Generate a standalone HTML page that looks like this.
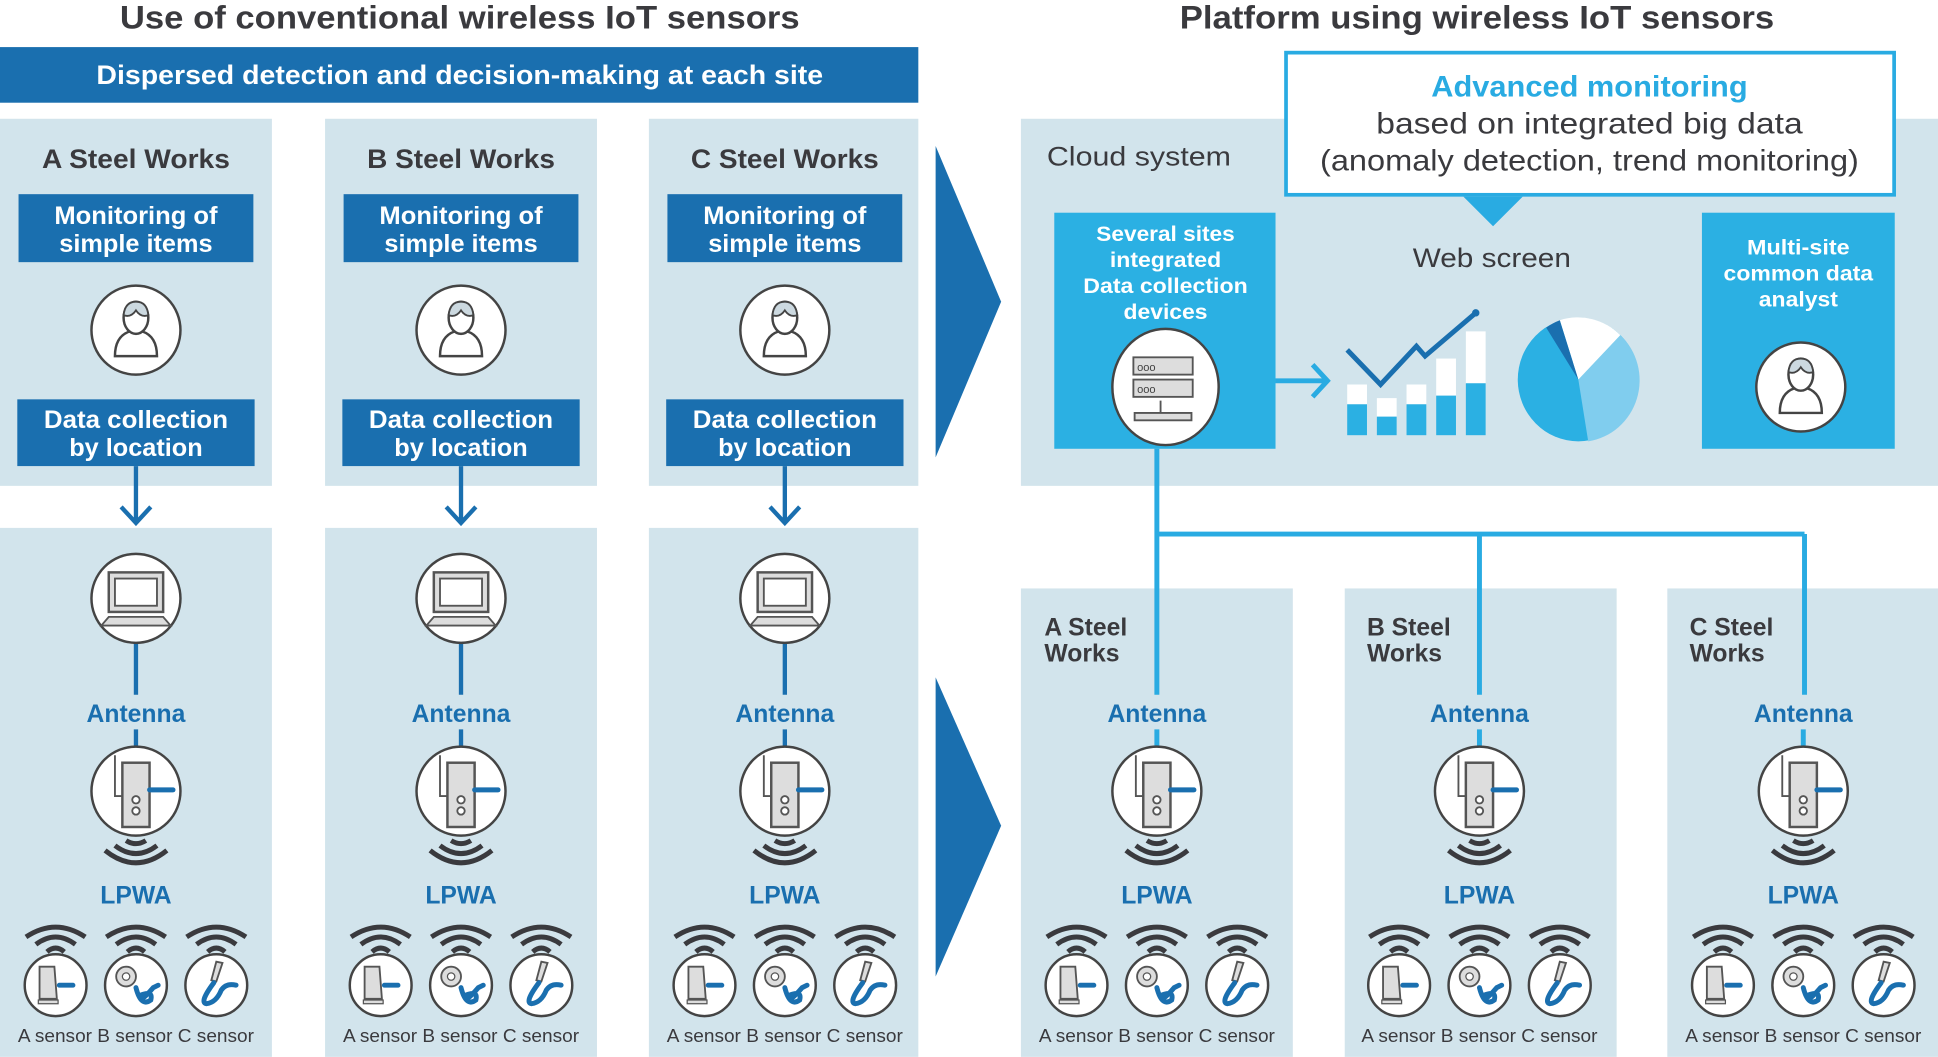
<!DOCTYPE html>
<html><head><meta charset="utf-8"><style>
html,body{margin:0;padding:0;background:#fff;}
svg{display:block;}
text{font-family:"Liberation Sans",sans-serif;font-weight:bold;}
</style></head><body>
<svg width="1938" height="1057" viewBox="0 0 1568 855" xmlns="http://www.w3.org/2000/svg">
<defs>
<g id="person">
<circle r="36" fill="#fff" stroke="#444" stroke-width="2"/>
<path d="M-17 21 Q-17 5 -5 1 L5 1 Q17 5 17 21 Z" fill="#fff" stroke="#444" stroke-width="2"/>
<ellipse cx="0" cy="-10" rx="10" ry="13" fill="#fff" stroke="#444" stroke-width="2"/>
<path d="M-10 -12 Q-4 -10 0 -16 Q4 -10 10 -12 Q9 -23 0 -23 Q-9 -23 -10 -12Z" fill="#ccd9e0" stroke="#444" stroke-width="1.5"/>
</g>
<g id="laptop">
<circle r="36" fill="#fff" stroke="#444" stroke-width="2"/>
<rect x="-22" y="-21" width="44" height="32" fill="#ddd" stroke="#555" stroke-width="2"/>
<rect x="-17" y="-16" width="34" height="22" fill="#fff" stroke="#555" stroke-width="1.5"/>
<polygon points="-28,22 28,22 22,15 -22,15" fill="#ddd" stroke="#555" stroke-width="1.5"/>
</g>
<g id="ant">
<circle r="36" fill="#fff" stroke="#444" stroke-width="2"/>
<path d="M-17 -29 V4 H-11" fill="none" stroke="#555" stroke-width="1.5"/>
<rect x="-11" y="-23" width="22" height="52" fill="#ddd" stroke="#555" stroke-width="2"/>
<line x1="11" y1="-1" x2="30" y2="-1" stroke="#1a6faf" stroke-width="4" stroke-linecap="round"/>
<circle cx="0" cy="7" r="3" fill="#fff" stroke="#555" stroke-width="1.5"/>
<circle cx="0" cy="16" r="3" fill="#fff" stroke="#555" stroke-width="1.5"/>
</g>
<g id="wavesDown" fill="none" stroke="#3a3a3e" stroke-width="4">
<path d="M-8 6 Q0 11 8 6"/>
<path d="M-17 10 Q0 23 17 10"/>
<path d="M-25 14 Q0 34 25 14"/>
</g>
<g id="wavesUp" fill="none" stroke="#3a3a3e" stroke-width="4">
<path d="M-7 10 Q0 4 7 10"/>
<path d="M-16 4 Q0 -8 16 4"/>
<path d="M-24 -2 Q0 -18 24 -2"/>
</g>
<g id="sA">
<circle r="25" fill="#fff" stroke="#444" stroke-width="2"/>
<polygon points="-13,-15 -1,-15 1,11 -13,11" fill="#ddd" stroke="#555" stroke-width="1.5"/>
<rect x="-14" y="12" width="16" height="3" fill="#ddd" stroke="#555"/>
<line x1="3" y1="0" x2="14" y2="0" stroke="#1a6faf" stroke-width="4" stroke-linecap="round"/>
</g>
<g id="sB">
<circle r="25" fill="#fff" stroke="#444" stroke-width="2"/>
<circle cx="-8" cy="-7" r="8" fill="#ddd" stroke="#555" stroke-width="1.5"/>
<circle cx="-8" cy="-7" r="3" fill="#fff" stroke="#555"/>
<path d="M0 2 Q4 18 12 12 Q14 4 4 8 Q2 16 14 2 L18 0" fill="none" stroke="#1a6faf" stroke-width="4" stroke-linecap="round"/>
</g>
<g id="sC">
<circle r="25" fill="#fff" stroke="#444" stroke-width="2"/>
<polygon points="0,-19 5,-18 0,-3 -4,-4" fill="#ddd" stroke="#555" stroke-width="1.5"/>
<path d="M-2 -2 Q-14 14 -8 15 Q0 14 4 4 Q8 -2 16 0" fill="none" stroke="#1a6faf" stroke-width="4" stroke-linecap="round"/>
</g>
</defs>

<text x="372" y="23" font-size="26" fill="#3a3a3e" text-anchor="middle" textLength="550" lengthAdjust="spacingAndGlyphs">Use of conventional wireless IoT sensors</text>
<text x="1195" y="23" font-size="26" fill="#3a3a3e" text-anchor="middle" textLength="481" lengthAdjust="spacingAndGlyphs">Platform using wireless IoT sensors</text>
<rect x="0" y="38" width="743" height="45" fill="#1a6faf"/>
<text x="372" y="68" font-size="22" fill="#fff" text-anchor="middle" textLength="588" lengthAdjust="spacingAndGlyphs">Dispersed detection and decision-making at each site</text>

<g fill="#d2e4ec">
<rect x="0" y="96" width="220" height="297"/><rect x="263" y="96" width="220" height="297"/><rect x="525" y="96" width="218" height="297"/>
<rect x="0" y="427" width="220" height="428"/><rect x="263" y="427" width="220" height="428"/><rect x="525" y="427" width="218" height="428"/>
</g>
<g fill="#1a6faf">
<rect x="15" y="157" width="190" height="55"/><rect x="278" y="157" width="190" height="55"/><rect x="540" y="157" width="190" height="55"/>
<rect x="14" y="323" width="192" height="54"/><rect x="277" y="323" width="192" height="54"/><rect x="539" y="323" width="192" height="54"/>
</g>
<g font-size="22" fill="#3a3a3e" text-anchor="middle">
<text x="110" y="136" textLength="152" lengthAdjust="spacingAndGlyphs">A Steel Works</text>
<text x="373" y="136" textLength="152" lengthAdjust="spacingAndGlyphs">B Steel Works</text>
<text x="635" y="136" textLength="152" lengthAdjust="spacingAndGlyphs">C Steel Works</text>
</g>
<g font-size="20" fill="#fff" text-anchor="middle">
<text x="110" y="181" textLength="132" lengthAdjust="spacingAndGlyphs">Monitoring of</text>
<text x="110" y="204" textLength="124" lengthAdjust="spacingAndGlyphs">simple items</text>
<text x="373" y="181" textLength="132" lengthAdjust="spacingAndGlyphs">Monitoring of</text>
<text x="373" y="204" textLength="124" lengthAdjust="spacingAndGlyphs">simple items</text>
<text x="635" y="181" textLength="132" lengthAdjust="spacingAndGlyphs">Monitoring of</text>
<text x="635" y="204" textLength="124" lengthAdjust="spacingAndGlyphs">simple items</text>
<text x="110" y="346" textLength="149" lengthAdjust="spacingAndGlyphs">Data collection</text>
<text x="110" y="369" textLength="108" lengthAdjust="spacingAndGlyphs">by location</text>
<text x="373" y="346" textLength="149" lengthAdjust="spacingAndGlyphs">Data collection</text>
<text x="373" y="369" textLength="108" lengthAdjust="spacingAndGlyphs">by location</text>
<text x="635" y="346" textLength="149" lengthAdjust="spacingAndGlyphs">Data collection</text>
<text x="635" y="369" textLength="108" lengthAdjust="spacingAndGlyphs">by location</text>
</g>
<use href="#person" x="110" y="267"/><use href="#person" x="373" y="267"/><use href="#person" x="635" y="267"/>
<g stroke="#1a6faf" stroke-width="3.5" fill="none">
<path d="M110 377 V423 M98 410 L110 423 L122 410"/>
<path d="M373 377 V423 M361 410 L373 423 L385 410"/>
<path d="M635 377 V423 M623 410 L635 423 L647 410"/>
<path d="M110 520 V562 M110 590 V604"/>
<path d="M373 520 V562 M373 590 V604"/>
<path d="M635 520 V562 M635 590 V604"/>
</g>
<use href="#laptop" x="110" y="484"/><use href="#laptop" x="373" y="484"/><use href="#laptop" x="635" y="484"/>

<polygon points="757,118 810,244 757,370" fill="#1a6faf"/>
<polygon points="757,548 810,668 757,790" fill="#1a6faf"/>

<rect x="826" y="96" width="742" height="297" fill="#d2e4ec"/>
<g fill="#d2e4ec">
<rect x="826" y="476" width="220" height="379"/><rect x="1088" y="476" width="220" height="379"/><rect x="1349" y="476" width="219" height="379"/>
</g>
<rect x="1040.5" y="42.5" width="492" height="115" fill="#fff" stroke="#29abe2" stroke-width="3"/>
<polygon points="1184,159 1232,159 1208,183" fill="#29abe2"/>
<text x="1286" y="78" font-size="24" fill="#29abe2" text-anchor="middle" textLength="256" lengthAdjust="spacingAndGlyphs">Advanced monitoring</text>
<text x="1286" y="108" font-size="24" fill="#3a3a3e" text-anchor="middle" textLength="345" lengthAdjust="spacingAndGlyphs" style="font-weight:normal">based on integrated big data</text>
<text x="1286" y="138" font-size="24" fill="#3a3a3e" text-anchor="middle" textLength="436" lengthAdjust="spacingAndGlyphs" style="font-weight:normal">(anomaly detection, trend monitoring)</text>
<text x="847" y="134" font-size="22" fill="#3a3a3e" textLength="149" lengthAdjust="spacingAndGlyphs" style="font-weight:normal">Cloud system</text>
<rect x="853" y="172" width="179" height="191" fill="#2bb0e3"/>
<rect x="1377" y="172" width="156" height="191" fill="#2bb0e3"/>
<g font-size="17" fill="#fff" text-anchor="middle">
<text x="943" y="195" textLength="112" lengthAdjust="spacingAndGlyphs">Several sites</text>
<text x="943" y="216" textLength="90" lengthAdjust="spacingAndGlyphs">integrated</text>
<text x="943" y="237" textLength="133" lengthAdjust="spacingAndGlyphs">Data collection</text>
<text x="943" y="258" textLength="68" lengthAdjust="spacingAndGlyphs">devices</text>
<text x="1455" y="206" textLength="83" lengthAdjust="spacingAndGlyphs">Multi-site</text>
<text x="1455" y="227" textLength="121" lengthAdjust="spacingAndGlyphs">common data</text>
<text x="1455" y="248" textLength="64" lengthAdjust="spacingAndGlyphs">analyst</text>
</g>
<text x="1207" y="216" font-size="22" fill="#3a3a3e" text-anchor="middle" textLength="128" lengthAdjust="spacingAndGlyphs" style="font-weight:normal">Web screen</text>
<ellipse cx="943" cy="313" rx="43" ry="47" fill="#fff" stroke="#444" stroke-width="2"/>
<rect x="917" y="289" width="48" height="14" fill="#ddd" stroke="#555" stroke-width="1.5"/>
<rect x="917" y="307" width="48" height="14" fill="#ddd" stroke="#555" stroke-width="1.5"/>
<text x="920" y="300" font-size="9" fill="#444" style="font-weight:normal">ooo</text>
<text x="920" y="318" font-size="9" fill="#444" style="font-weight:normal">ooo</text>
<path d="M939 324 V334 M918 334 H964 V340 H918 Z" fill="#ddd" stroke="#555" stroke-width="1.5"/>
<path d="M1032 308 H1072 M1062 295 L1074 308 L1062 321" stroke="#29abe2" stroke-width="4" fill="none"/>
<g fill="#fff">
<rect x="1090" y="311" width="16" height="16"/><rect x="1114" y="322" width="16" height="15"/><rect x="1138" y="311" width="16" height="16"/><rect x="1162" y="290" width="16" height="30"/><rect x="1186" y="268" width="16" height="42"/>
</g>
<g fill="#2bb0e3">
<rect x="1090" y="327" width="16" height="25"/><rect x="1114" y="337" width="16" height="15"/><rect x="1138" y="327" width="16" height="25"/><rect x="1162" y="320" width="16" height="32"/><rect x="1186" y="310" width="16" height="42"/>
</g>
<polyline points="1090,283 1117,311 1146,280 1153,288 1194,253" fill="none" stroke="#1a6faf" stroke-width="4"/>
<circle cx="1194" cy="253" r="3" fill="#1a6faf"/>
<g transform="translate(1277,307)">
<ellipse rx="49" ry="50" fill="#2bb0e3"/>
<path d="M0 0 L8 50 A49 50 0 0 0 34 -36 Z" fill="#80cdee"/>
<path d="M0 0 L34 -36 A49 50 0 0 0 -15 -48 Z" fill="#fff"/>
<path d="M0 0 L-15 -48 A49 50 0 0 0 -26 -42 Z" fill="#1a6faf"/>
</g>
<use href="#person" x="1457" y="313"/>
<g stroke="#29abe2" stroke-width="4" fill="none">
<path d="M936 363 V562 M936 590 V604"/>
<path d="M936 432 H1460"/>
<path d="M1197 432 V562 M1197 590 V604"/>
<path d="M1460 432 V562 M1459 590 V604"/>
</g>
<g font-size="20" fill="#3a3a3e">
<text x="845" y="514">A Steel</text><text x="845" y="535">Works</text>
<text x="1106" y="514">B Steel</text><text x="1106" y="535">Works</text>
<text x="1367" y="514">C Steel</text><text x="1367" y="535">Works</text>
</g>

<g font-size="20" fill="#1a6faf" text-anchor="middle">
<text x="110" y="584">Antenna</text><text x="373" y="584">Antenna</text><text x="635" y="584">Antenna</text>
<text x="936" y="584">Antenna</text><text x="1197" y="584">Antenna</text><text x="1459" y="584">Antenna</text>
<text x="110" y="731">LPWA</text><text x="373" y="731">LPWA</text><text x="635" y="731">LPWA</text>
<text x="936" y="731">LPWA</text><text x="1197" y="731">LPWA</text><text x="1459" y="731">LPWA</text>
</g>

<g transform="translate(110,0)"><use href="#ant" y="640"/><use href="#wavesDown" y="674"/><use href="#wavesUp" x="-65" y="760"/><use href="#wavesUp" y="760"/><use href="#wavesUp" x="65" y="760"/><use href="#sA" x="-65" y="797"/><use href="#sB" y="797"/><use href="#sC" x="65" y="797"/></g>
<g transform="translate(373,0)"><use href="#ant" y="640"/><use href="#wavesDown" y="674"/><use href="#wavesUp" x="-65" y="760"/><use href="#wavesUp" y="760"/><use href="#wavesUp" x="65" y="760"/><use href="#sA" x="-65" y="797"/><use href="#sB" y="797"/><use href="#sC" x="65" y="797"/></g>
<g transform="translate(635,0)"><use href="#ant" y="640"/><use href="#wavesDown" y="674"/><use href="#wavesUp" x="-65" y="760"/><use href="#wavesUp" y="760"/><use href="#wavesUp" x="65" y="760"/><use href="#sA" x="-65" y="797"/><use href="#sB" y="797"/><use href="#sC" x="65" y="797"/></g>
<g transform="translate(936,0)"><use href="#ant" y="640"/><use href="#wavesDown" y="674"/><use href="#wavesUp" x="-65" y="760"/><use href="#wavesUp" y="760"/><use href="#wavesUp" x="65" y="760"/><use href="#sA" x="-65" y="797"/><use href="#sB" y="797"/><use href="#sC" x="65" y="797"/></g>
<g transform="translate(1197,0)"><use href="#ant" y="640"/><use href="#wavesDown" y="674"/><use href="#wavesUp" x="-65" y="760"/><use href="#wavesUp" y="760"/><use href="#wavesUp" x="65" y="760"/><use href="#sA" x="-65" y="797"/><use href="#sB" y="797"/><use href="#sC" x="65" y="797"/></g>
<g transform="translate(1459,0)"><use href="#ant" y="640"/><use href="#wavesDown" y="674"/><use href="#wavesUp" x="-65" y="760"/><use href="#wavesUp" y="760"/><use href="#wavesUp" x="65" y="760"/><use href="#sA" x="-65" y="797"/><use href="#sB" y="797"/><use href="#sC" x="65" y="797"/></g>

<g font-size="15" fill="#3a3a3e" text-anchor="middle">
<text x="110" y="843" textLength="191" lengthAdjust="spacingAndGlyphs" style="font-weight:normal">A sensor B sensor C sensor</text>
<text x="373" y="843" textLength="191" lengthAdjust="spacingAndGlyphs" style="font-weight:normal">A sensor B sensor C sensor</text>
<text x="635" y="843" textLength="191" lengthAdjust="spacingAndGlyphs" style="font-weight:normal">A sensor B sensor C sensor</text>
<text x="936" y="843" textLength="191" lengthAdjust="spacingAndGlyphs" style="font-weight:normal">A sensor B sensor C sensor</text>
<text x="1197" y="843" textLength="191" lengthAdjust="spacingAndGlyphs" style="font-weight:normal">A sensor B sensor C sensor</text>
<text x="1459" y="843" textLength="191" lengthAdjust="spacingAndGlyphs" style="font-weight:normal">A sensor B sensor C sensor</text>
</g>
</svg>
</body></html>
